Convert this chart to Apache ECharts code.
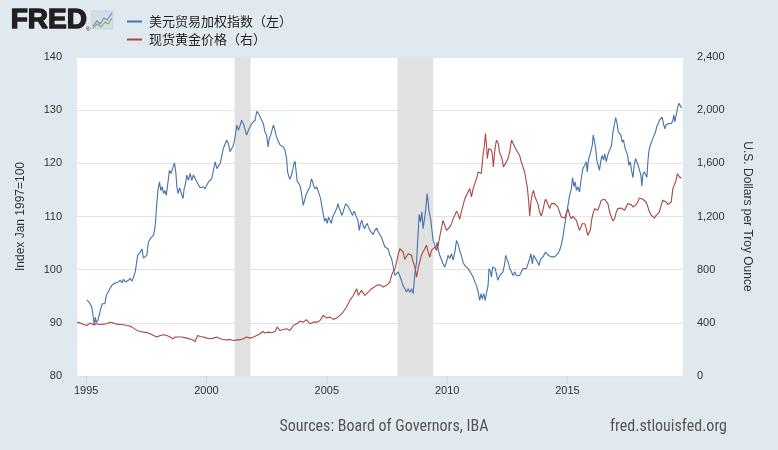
<!DOCTYPE html>
<html><head><meta charset="utf-8">
<script src="https://cdn.jsdelivr.net/npm/echarts@6/dist/echarts.min.js"></script>
<style>html,body{margin:0;padding:0;background:#e1e9f0}#c{width:778px;height:450px}</style>
</head><body><div id="c"></div><script>
const seriesNames = ['美元贸易加权指数（左）', '现货黄金价格（右）'];
const yearTicks = [1995, 2000, 2005, 2010, 2015];
const recessions = [[2001.17, 2001.83], [2007.94, 2009.42]];
const xRange = [1994.62, 2019.8];
const leftRange = [80, 140, 10];
const rightRange = [0, 2400, 400];
const leftAxisName = 'Index Jan 1997=100';
const rightAxisName = 'U.S. Dollars per Troy Ounce';
const sourceText = 'Sources: Board of Governors, IBA';
const siteText = 'fred.stlouisfed.org';

const dollarIndex = [[1995.03,94.3],[1995.12,93.9],[1995.17,94.1],[1995.23,93.0],[1995.27,92.0],[1995.34,89.5],[1995.38,91.1],[1995.42,90.1],[1995.49,90.5],[1995.56,90.8],[1995.61,92.7],[1995.67,93.6],[1995.72,93.9],[1995.78,93.6],[1995.84,95.2],[1995.89,95.5],[1995.95,96.1],[1996.00,96.4],[1996.06,97.0],[1996.11,96.7],[1996.17,97.4],[1996.25,97.2],[1996.33,97.7],[1996.42,98.0],[1996.49,97.5],[1996.55,98.2],[1996.62,97.7],[1996.69,97.4],[1996.76,98.0],[1996.83,98.4],[1996.90,97.8],[1996.97,98.6],[1997.04,99.6],[1997.08,100.8],[1997.14,102.7],[1997.19,103.0],[1997.25,103.3],[1997.32,103.9],[1997.38,102.2],[1997.45,102.1],[1997.52,102.7],[1997.59,105.2],[1997.66,105.8],[1997.73,105.7],[1997.80,106.5],[1997.87,108.3],[1997.94,112.7],[1997.99,115.2],[1998.05,116.5],[1998.10,114.9],[1998.16,115.6],[1998.22,114.3],[1998.27,114.9],[1998.33,114.0],[1998.41,116.8],[1998.46,118.7],[1998.53,118.1],[1998.60,118.4],[1998.67,120.1],[1998.73,118.1],[1998.77,115.6],[1998.82,114.3],[1998.88,115.4],[1998.93,115.6],[1998.98,114.0],[1999.03,113.4],[1999.07,115.2],[1999.13,116.2],[1999.18,117.8],[1999.25,116.8],[1999.32,118.1],[1999.39,116.8],[1999.46,117.8],[1999.53,118.1],[1999.60,116.5],[1999.67,116.2],[1999.74,115.4],[1999.81,115.2],[1999.87,115.6],[1999.94,115.2],[2000.01,114.9],[2000.08,116.5],[2000.15,116.8],[2000.22,117.1],[2000.29,118.7],[2000.36,120.3],[2000.43,119.0],[2000.50,118.7],[2000.57,120.0],[2000.64,121.5],[2000.70,122.8],[2000.77,122.5],[2000.84,124.4],[2000.91,123.7],[2000.98,122.2],[2001.05,122.8],[2001.12,123.4],[2001.19,125.0],[2001.26,127.2],[2001.33,126.2],[2001.40,127.2],[2001.46,128.1],[2001.53,127.5],[2001.60,127.2],[2001.67,125.3],[2001.74,126.2],[2001.81,126.5],[2001.88,127.5],[2001.95,127.2],[2002.02,128.1],[2002.09,129.8],[2002.16,129.4],[2002.23,128.7],[2002.30,128.4],[2002.36,127.5],[2002.43,125.9],[2002.50,125.3],[2002.56,123.1],[2002.61,124.7],[2002.67,125.3],[2002.72,126.2],[2002.78,127.2],[2002.83,126.5],[2002.89,125.3],[2002.95,124.5],[2003.05,123.5],[2003.12,123.4],[2003.19,123.1],[2003.26,122.5],[2003.33,120.9],[2003.37,118.4],[2003.43,117.4],[2003.47,117.0],[2003.53,117.8],[2003.58,118.7],[2003.64,120.0],[2003.68,120.4],[2003.72,118.7],[2003.77,116.6],[2003.84,116.2],[2003.90,115.6],[2003.95,114.3],[2004.02,112.1],[2004.08,113.1],[2004.13,114.0],[2004.19,114.6],[2004.25,114.3],[2004.30,115.6],[2004.36,117.1],[2004.41,116.5],[2004.47,115.6],[2004.52,115.2],[2004.58,115.6],[2004.63,114.9],[2004.69,114.6],[2004.74,113.4],[2004.80,111.8],[2004.85,110.5],[2004.91,109.1],[2004.96,109.7],[2005.02,108.7],[2005.07,109.9],[2005.13,109.6],[2005.19,108.7],[2005.24,109.9],[2005.30,110.2],[2005.35,110.9],[2005.41,111.5],[2005.46,112.4],[2005.52,111.5],[2005.57,110.9],[2005.63,110.2],[2005.68,110.9],[2005.74,111.8],[2005.79,112.4],[2005.85,112.7],[2005.90,111.8],[2005.96,111.2],[2006.02,110.9],[2006.07,110.2],[2006.13,111.0],[2006.18,110.5],[2006.24,110.2],[2006.29,109.3],[2006.35,107.4],[2006.40,108.7],[2006.46,109.3],[2006.51,108.3],[2006.57,107.7],[2006.62,108.3],[2006.68,108.7],[2006.73,108.0],[2006.79,107.4],[2006.86,107.7],[2006.93,106.6],[2006.99,107.4],[2007.07,107.8],[2007.14,107.1],[2007.21,106.8],[2007.27,106.1],[2007.34,105.2],[2007.41,104.3],[2007.48,104.6],[2007.55,103.9],[2007.62,102.7],[2007.69,102.1],[2007.76,100.5],[2007.83,98.9],[2007.90,98.6],[2007.96,99.6],[2008.03,98.9],[2008.10,98.6],[2008.17,97.0],[2008.24,96.4],[2008.31,95.8],[2008.38,96.4],[2008.45,95.7],[2008.52,96.4],[2008.59,95.5],[2008.63,97.7],[2008.67,99.6],[2008.73,101.4],[2008.78,105.8],[2008.84,110.4],[2008.89,109.0],[2008.95,110.9],[2009.00,107.7],[2009.06,109.6],[2009.11,111.2],[2009.17,114.3],[2009.21,112.7],[2009.25,110.9],[2009.31,109.6],[2009.36,107.7],[2009.42,105.5],[2009.47,105.2],[2009.53,103.9],[2009.58,105.2],[2009.64,103.6],[2009.69,102.7],[2009.76,102.4],[2009.83,101.1],[2009.90,100.5],[2009.97,101.4],[2010.04,102.7],[2010.11,102.1],[2010.18,103.0],[2010.25,101.8],[2010.32,103.3],[2010.39,105.5],[2010.45,104.9],[2010.52,103.6],[2010.59,102.7],[2010.66,101.4],[2010.73,100.8],[2010.80,101.1],[2010.87,100.2],[2010.94,99.9],[2011.01,99.2],[2011.08,98.6],[2011.15,97.7],[2011.22,97.0],[2011.29,95.8],[2011.35,94.2],[2011.41,95.5],[2011.46,94.5],[2011.52,95.5],[2011.58,94.2],[2011.63,95.5],[2011.70,97.0],[2011.74,100.2],[2011.80,99.6],[2011.84,98.6],[2011.89,100.5],[2011.95,100.8],[2012.00,100.2],[2012.06,98.9],[2012.11,98.0],[2012.18,98.9],[2012.25,98.9],[2012.32,99.6],[2012.39,101.1],[2012.43,102.7],[2012.49,101.9],[2012.54,101.4],[2012.60,100.2],[2012.67,99.6],[2012.74,98.9],[2012.81,99.6],[2012.88,98.9],[2012.95,99.2],[2013.01,98.9],[2013.08,99.2],[2013.15,100.2],[2013.22,100.5],[2013.29,100.2],[2013.36,101.1],[2013.43,102.1],[2013.48,103.0],[2013.54,101.1],[2013.59,102.7],[2013.65,103.0],[2013.71,101.8],[2013.76,102.1],[2013.82,100.8],[2013.87,101.9],[2013.93,101.8],[2013.98,102.4],[2014.04,102.1],[2014.09,103.3],[2014.15,103.0],[2014.20,102.7],[2014.26,102.8],[2014.33,102.4],[2014.40,102.7],[2014.47,102.4],[2014.54,102.1],[2014.60,103.0],[2014.67,103.6],[2014.74,104.6],[2014.81,106.1],[2014.88,108.3],[2014.95,110.2],[2015.02,112.1],[2015.09,114.0],[2015.16,115.2],[2015.21,117.3],[2015.27,115.6],[2015.32,116.5],[2015.37,114.9],[2015.43,115.6],[2015.50,114.6],[2015.57,117.1],[2015.64,119.0],[2015.71,119.6],[2015.78,120.3],[2015.82,118.4],[2015.88,120.9],[2015.93,121.5],[2015.99,121.8],[2016.03,123.4],[2016.07,125.3],[2016.11,124.4],[2016.17,122.8],[2016.22,120.6],[2016.28,120.3],[2016.33,118.7],[2016.39,120.6],[2016.44,121.5],[2016.50,120.6],[2016.55,121.8],[2016.61,120.3],[2016.67,121.5],[2016.72,122.2],[2016.78,122.8],[2016.83,123.4],[2016.89,125.9],[2016.96,127.5],[2017.00,128.6],[2017.05,127.8],[2017.11,125.9],[2017.16,125.6],[2017.22,125.3],[2017.27,124.0],[2017.33,124.4],[2017.38,123.1],[2017.44,122.2],[2017.50,121.5],[2017.55,119.6],[2017.61,120.3],[2017.66,118.7],[2017.72,117.3],[2017.77,119.6],[2017.83,120.9],[2017.88,120.3],[2017.94,119.6],[2017.99,118.7],[2018.05,117.8],[2018.09,115.7],[2018.13,117.8],[2018.19,118.4],[2018.24,118.1],[2018.30,117.4],[2018.34,120.3],[2018.38,122.2],[2018.44,123.4],[2018.49,124.0],[2018.55,124.7],[2018.60,125.3],[2018.66,125.9],[2018.71,126.9],[2018.77,127.5],[2018.82,128.1],[2018.88,127.8],[2018.93,128.7],[2018.99,128.6],[2019.04,126.5],[2019.10,127.2],[2019.16,126.9],[2019.21,127.5],[2019.27,127.2],[2019.32,127.5],[2019.38,128.1],[2019.42,129.1],[2019.46,127.8],[2019.51,128.1],[2019.57,130.3],[2019.63,131.3],[2019.68,130.9],[2019.74,130.4]];

const goldPrice = [[1994.62,405],[1994.76,398],[1994.89,388],[1995.03,380],[1995.17,398],[1995.31,385],[1995.45,393],[1995.59,388],[1995.72,390],[1995.86,393],[1996.00,405],[1996.07,400],[1996.14,398],[1996.28,390],[1996.42,388],[1996.56,385],[1996.69,380],[1996.83,375],[1996.97,360],[1997.04,350],[1997.11,343],[1997.25,335],[1997.38,330],[1997.52,328],[1997.66,318],[1997.80,305],[1997.94,293],[1998.08,305],[1998.22,310],[1998.35,305],[1998.49,293],[1998.60,280],[1998.70,293],[1998.84,293],[1998.98,293],[1999.18,285],[1999.39,275],[1999.53,260],[1999.57,267],[1999.63,305],[1999.68,310],[1999.74,297],[1999.87,293],[2000.01,285],[2000.08,297],[2000.15,280],[2000.29,285],[2000.43,293],[2000.57,280],[2000.70,275],[2000.84,272],[2000.98,275],[2001.12,267],[2001.26,272],[2001.40,272],[2001.53,280],[2001.67,293],[2001.81,285],[2001.95,293],[2002.09,305],[2002.23,318],[2002.34,335],[2002.43,323],[2002.57,330],[2002.71,325],[2002.85,335],[2002.94,368],[2003.05,343],[2003.19,350],[2003.26,335],[2003.33,355],[2003.47,343],[2003.61,380],[2003.75,393],[2003.89,413],[2004.02,405],[2004.16,423],[2004.30,393],[2004.44,405],[2004.58,405],[2004.72,418],[2004.85,456],[2004.99,436],[2005.13,443],[2005.27,426],[2005.41,436],[2005.54,456],[2005.68,481],[2005.82,519],[2005.96,569],[2006.10,606],[2006.24,657],[2006.31,606],[2006.44,644],[2006.58,606],[2006.72,631],[2006.86,657],[2007.07,682],[2007.20,687],[2007.34,669],[2007.48,682],[2007.62,707],[2007.69,757],[2007.76,787],[2007.83,807],[2007.90,857],[2007.96,908],[2008.03,958],[2008.10,970],[2008.17,933],[2008.24,878],[2008.31,870],[2008.38,920],[2008.45,933],[2008.52,908],[2008.59,857],[2008.66,820],[2008.73,744],[2008.79,807],[2008.86,857],[2008.93,908],[2009.00,933],[2009.07,958],[2009.14,983],[2009.21,933],[2009.28,895],[2009.35,945],[2009.42,958],[2009.49,970],[2009.56,945],[2009.63,983],[2009.69,1046],[2009.76,1109],[2009.83,1171],[2009.90,1134],[2009.97,1096],[2010.04,1109],[2010.11,1121],[2010.18,1146],[2010.25,1184],[2010.32,1209],[2010.39,1239],[2010.45,1222],[2010.52,1179],[2010.59,1234],[2010.66,1284],[2010.73,1330],[2010.80,1360],[2010.87,1385],[2010.94,1410],[2011.01,1347],[2011.08,1410],[2011.15,1448],[2011.22,1485],[2011.29,1535],[2011.35,1548],[2011.42,1523],[2011.49,1661],[2011.55,1736],[2011.59,1824],[2011.63,1749],[2011.67,1636],[2011.73,1711],[2011.78,1724],[2011.84,1699],[2011.88,1661],[2011.92,1573],[2011.96,1661],[2012.00,1724],[2012.05,1774],[2012.09,1787],[2012.13,1749],[2012.17,1686],[2012.23,1661],[2012.28,1636],[2012.34,1573],[2012.39,1573],[2012.46,1611],[2012.53,1636],[2012.60,1686],[2012.64,1736],[2012.68,1774],[2012.74,1749],[2012.81,1736],[2012.88,1699],[2012.94,1686],[2013.01,1661],[2013.08,1611],[2013.15,1598],[2013.22,1535],[2013.29,1460],[2013.33,1422],[2013.39,1309],[2013.43,1204],[2013.48,1309],[2013.54,1372],[2013.59,1397],[2013.65,1347],[2013.71,1335],[2013.77,1297],[2013.84,1234],[2013.91,1204],[2013.98,1247],[2014.05,1309],[2014.09,1330],[2014.15,1309],[2014.20,1297],[2014.26,1259],[2014.33,1297],[2014.40,1309],[2014.47,1297],[2014.54,1309],[2014.60,1272],[2014.67,1234],[2014.74,1196],[2014.81,1184],[2014.88,1189],[2014.95,1222],[2015.02,1259],[2015.09,1209],[2015.16,1184],[2015.23,1201],[2015.30,1196],[2015.37,1171],[2015.43,1134],[2015.50,1096],[2015.56,1121],[2015.61,1146],[2015.67,1134],[2015.72,1146],[2015.78,1109],[2015.84,1058],[2015.89,1071],[2015.95,1096],[2016.00,1171],[2016.06,1222],[2016.13,1259],[2016.19,1272],[2016.25,1247],[2016.31,1272],[2016.36,1297],[2016.40,1322],[2016.47,1335],[2016.54,1330],[2016.61,1322],[2016.68,1297],[2016.75,1234],[2016.82,1196],[2016.89,1166],[2016.96,1184],[2017.03,1234],[2017.09,1259],[2017.16,1254],[2017.23,1264],[2017.30,1259],[2017.37,1247],[2017.44,1272],[2017.51,1297],[2017.58,1309],[2017.65,1289],[2017.72,1272],[2017.79,1284],[2017.85,1289],[2017.92,1309],[2017.99,1340],[2018.06,1330],[2018.13,1330],[2018.20,1322],[2018.27,1309],[2018.34,1272],[2018.41,1234],[2018.48,1209],[2018.55,1196],[2018.62,1189],[2018.69,1209],[2018.75,1222],[2018.82,1234],[2018.89,1284],[2018.96,1322],[2019.03,1330],[2019.10,1309],[2019.17,1289],[2019.24,1297],[2019.31,1309],[2019.38,1410],[2019.45,1440],[2019.51,1473],[2019.57,1523],[2019.63,1510],[2019.68,1490],[2019.74,1498]];

const chart = echarts.init(document.getElementById('c'), null, {renderer: 'canvas'});
const labelFont = {color: '#333', fontSize: 11, fontFamily: '"Liberation Sans", Arial, sans-serif'};
chart.setOption({
  animation: false,
  backgroundColor: '#e1e9f0',
  grid: {left: 77, right: 95, top: 57, bottom: 74, show: true, backgroundColor: '#ffffff', borderWidth: 0},
  legend: {
    orient: 'vertical', left: 122, top: 10, itemGap: 5, itemWidth: 15, itemHeight: 2,
    icon: 'rect', data: seriesNames,
    textStyle: {color: '#222', fontSize: 13, fontFamily: '"Noto Sans CJK SC", sans-serif', padding: [0, 0, 0, 2]}
  },
  xAxis: {
    type: 'value', min: xRange[0], max: xRange[1],
    axisLine: {show: false},
    splitLine: {show: false},
    axisTick: {show: true, customValues: yearTicks, length: 8, lineStyle: {color: '#ccd6eb'}},
    axisLabel: Object.assign({customValues: yearTicks, margin: 9, formatter: v => String(Math.round(v))}, labelFont)
  },
  yAxis: [{
    type: 'value', min: leftRange[0], max: leftRange[1], interval: leftRange[2], position: 'left',
    name: leftAxisName, nameLocation: 'middle', nameRotate: 90, nameGap: 50,
    nameTextStyle: {color: '#333', fontSize: 12, fontFamily: '"Liberation Sans", Arial, sans-serif'},
    axisLine: {show: false}, axisTick: {show: false},
    axisLabel: Object.assign({margin: 15}, labelFont),
    splitLine: {lineStyle: {color: '#e3e3e3', width: 1}}
  }, {
    type: 'value', min: rightRange[0], max: rightRange[1], interval: rightRange[2], position: 'right',
    name: rightAxisName, nameLocation: 'middle', nameRotate: -90, nameGap: 58,
    nameTextStyle: {color: '#333', fontSize: 12, fontFamily: '"Liberation Sans", Arial, sans-serif'},
    axisLine: {show: false}, axisTick: {show: false},
    axisLabel: Object.assign({margin: 14, formatter: v => v.toLocaleString('en-US')}, labelFont),
    splitLine: {show: false}
  }],
  series: [{
    name: seriesNames[0], type: 'line', yAxisIndex: 0, data: dollarIndex,
    showSymbol: false, symbol: 'none', color: '#4572a7',
    lineStyle: {width: 1.1, color: '#4572a7'},
    markArea: {silent: true, itemStyle: {color: '#e1e1e1'},
      data: recessions.map(r => [{xAxis: r[0]}, {xAxis: r[1]}])}
  }, {
    name: seriesNames[1], type: 'line', yAxisIndex: 1, data: goldPrice,
    showSymbol: false, symbol: 'none', color: '#aa4643',
    lineStyle: {width: 1.1, color: '#aa4643'}
  }],
  graphic: [
    {type: 'text', left: 10, top: 6, style: {text: 'FRED', fill: '#231f20', stroke: '#231f20', lineWidth: 1.4,
      font: 'bold 28px "Liberation Sans", Arial, sans-serif'}},
    {type: 'text', left: 86, top: 26, style: {text: '®', fill: '#231f20', font: '6px "Liberation Sans", sans-serif'}},
    {type: 'rect', shape: {x: 92, y: 11, width: 21, height: 18}, style: {fill: '#d5dde5', stroke: '#b9c3cc', lineWidth: 0.5}},
    {type: 'polyline', shape: {points: [[93, 26], [97, 21], [100, 24], [104, 18], [107, 20], [112, 13]]}, style: {stroke: '#6d8fc0', lineWidth: 1.2, fill: null}},
    {type: 'polyline', shape: {points: [[93, 28], [97, 24], [101, 27], [105, 22], [108, 24], [112, 18]]}, style: {stroke: '#7fae5a', lineWidth: 1.2, fill: null}},
    {type: 'text', x: 384, y: 427, style: {text: sourceText, fill: '#555', align: 'center', verticalAlign: 'middle',
      font: '16px "Liberation Sans Narrow", "Roboto Condensed", "Liberation Sans", sans-serif'}},
    {type: 'text', x: 727, y: 427, style: {text: siteText, fill: '#555', align: 'right', verticalAlign: 'middle',
      font: '16px "Liberation Sans Narrow", "Roboto Condensed", "Liberation Sans", sans-serif'}}
  ]
});
</script></body></html>
